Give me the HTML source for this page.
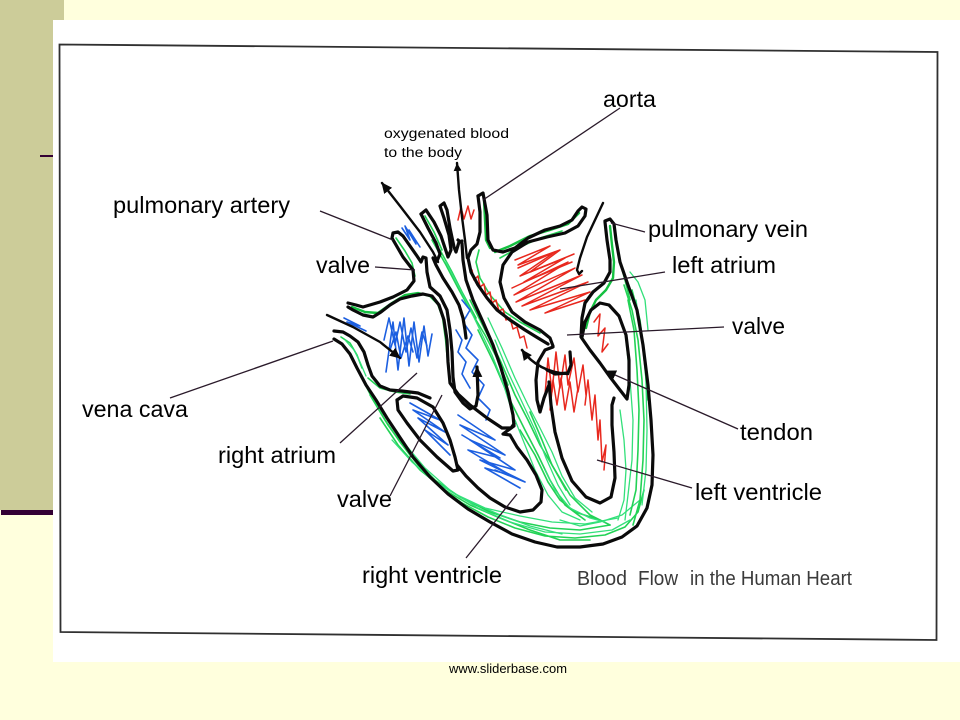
<!DOCTYPE html>
<html>
<head>
<meta charset="utf-8">
<style>
html,body{margin:0;padding:0;background:#FFFFDD;}
svg{display:block;}
.lb{font-family:"Liberation Sans",Arial,sans-serif;font-size:23px;fill:#000;}
.k{fill:none;stroke:#0a0a0a;stroke-width:3.2;stroke-linejoin:round;stroke-linecap:round;}
.pt{fill:none;stroke:#2a1a2a;stroke-width:1.3;}
.g{fill:none;stroke:#22d255;stroke-width:1.6;stroke-linejoin:round;stroke-linecap:round;}
.g2{fill:none;stroke:#14c040;stroke-width:2.4;stroke-linejoin:round;stroke-linecap:round;}
.g3{fill:none;stroke:#33e07a;stroke-width:1.3;stroke-linejoin:round;stroke-linecap:round;}
.b{fill:none;stroke:#1c5fe0;stroke-width:1.6;stroke-linejoin:round;stroke-linecap:round;}
.r{fill:none;stroke:#e8281e;stroke-width:1.5;stroke-linejoin:round;stroke-linecap:round;}
</style>
</head>
<body>
<svg width="960" height="720" viewBox="0 0 960 720" xmlns="http://www.w3.org/2000/svg">
<defs>
<marker id="ah" markerUnits="userSpaceOnUse" markerWidth="12" markerHeight="10" refX="10" refY="5" orient="auto">
<path d="M0,0 L11,5 L0,10 z" fill="#0a0a0a"/>
</marker>
<marker id="ahs" markerUnits="userSpaceOnUse" markerWidth="9" markerHeight="8" refX="8" refY="4" orient="auto">
<path d="M0,0 L8,4 L0,8 z" fill="#0a0a0a"/>
</marker>
</defs>

<!-- background -->
<rect x="0" y="0" width="960" height="720" fill="#FFFFDD"/>
<rect x="0" y="0" width="64" height="510" fill="#CCCC99"/>
<rect x="1" y="510" width="52" height="5" fill="#330033"/>
<rect x="40" y="155" width="14" height="2" fill="#330033"/>
<rect x="53" y="20" width="907" height="642" fill="#FFFFFF"/>

<!-- frame -->
<polygon points="59.5,44.5 937.5,52 936.5,640 60.5,632" fill="none" stroke="#303030" stroke-width="1.8"/>

<!-- ===== green muscle strokes ===== -->
<polyline class="g" points="362,378 372,398 385,420 400,442 418,465 440,487 462,503 488,517 515,528 545,536 575,538 605,535 625,527 638,512 644,490"/>
<polyline class="g" points="370,395 388,425 410,455 435,480 460,497 490,512 520,522 550,528 580,530 610,525"/>
<polyline class="g" points="380,418 398,445 420,470 445,490 470,505 500,518 530,530 560,540 590,540"/>
<polyline class="g3" points="366,385 382,412 400,438 425,468 452,492 478,508 510,522 545,532 580,534 612,530 630,520"/>
<polyline class="g3" points="392,440 412,462 438,484 466,500 498,514 530,526 562,534"/>
<polyline class="g3" points="430,478 455,494 485,508 520,516 552,522 585,524 618,518"/>
<polyline class="g3" points="560,520 580,526 600,522 622,515 640,500"/>
<polyline class="g" points="624,285 632,310 638,340 642,380 644,420 643,460 640,500 633,525"/>
<polyline class="g" points="628,300 634,330 637,370 639,410 638,450 636,490 630,515"/>
<polyline class="g" points="632,290 640,320 645,360 647,400"/>
<polyline class="g3" points="626,340 630,380 633,420 632,460 628,495 625,520"/>
<polyline class="g3" points="636,300 642,340 646,380 647,430 646,470 642,505"/>
<polyline class="g3" points="620,410 624,440 626,470 624,500 618,520"/>
<polyline class="g3" points="630,272 638,282 645,300 648,330"/>
<polyline class="g" points="470,300 485,330 500,360 515,395 528,420 540,445 555,470 570,495 590,515 610,525"/>
<polyline class="g" points="478,330 495,365 510,400 525,430 538,455 550,480 565,505 585,520"/>
<polyline class="g" points="520,430 535,455 548,482 560,500 575,512 600,520"/>
<polyline class="g" points="530,412 542,440 552,465 566,490"/>
<polyline class="g3" points="488,318 502,348 515,378 528,405 540,428 552,452 562,476 575,498 592,512"/>
<polyline class="g3" points="495,340 508,372 522,402 535,430 546,458 558,485 570,505"/>
<polyline class="g3" points="515,420 525,445 535,470 548,495 562,512 580,520"/>
<polyline class="g3" points="545,470 555,490 570,508 590,518 605,522"/>
<polyline class="g2" points="610,226 612,245 614,262 613,278 606,290 596,300 590,312 586,328"/>
<polyline class="g" points="616,240 620,262 625,280 630,300"/>
<polyline class="g2" points="495,252 510,246 530,236 550,230 568,224 579,213"/>
<polyline class="g" points="500,258 518,248 540,238 562,231"/>
<polyline class="g2" points="484,200 485,220 486,240 490,248"/>
<polyline class="g" points="479,250 476,262 480,278 490,295 505,312 520,322 540,333"/>
<polyline class="g2" points="352,307 365,312 378,313 392,303 405,295 418,293 430,296 438,304 443,318 446,340 448,362"/>
<polyline class="g" points="396,238 405,251 412,263 415,276"/>
<polyline class="g" points="425,216 434,232 442,250"/>
<polyline class="g" points="432,240 446,265 458,288 470,310 485,335 498,360 508,385"/>
<polyline class="g" points="440,250 452,272 462,292 476,318"/>
<polyline class="g3" points="446,262 458,285 468,305 480,330 492,355 502,380 510,405"/>
<polyline class="g" points="341,337 350,343 357,355 362,368"/>
<polyline class="g" points="368,378 380,388 395,392 410,394"/>
<polyline class="g3" points="345,340 354,350 360,362 366,376"/>

<!-- ===== blue scribbles ===== -->
<polyline class="b" points="386,372 393,322 398,370 404,318 409,366 414,322 419,362 424,326 428,356 432,334"/>
<polyline class="b" points="390,350 396,332 401,358 408,336 413,352"/>
<polyline class="b" points="384,340 389,318 395,345 400,322 406,352 411,328 417,358 422,332 427,346"/>
<polyline class="b" points="402,228 410,240 405,226 416,244 409,230 420,247"/>
<polyline class="b" points="344,318 360,326 347,322 366,331"/>
<polyline class="b" points="462,300 470,310 463,322 472,335 466,348 478,360 472,372 484,385 478,398 490,410 486,420"/>
<polyline class="b" points="456,330 462,340 458,352 466,362 462,374 470,388"/>
<polyline class="b" points="410,403 440,420 413,410 445,432 418,418 448,445 425,430 450,455"/>
<polyline class="b" points="458,415 495,440 460,425 505,455 470,440 515,470 480,460 525,482 495,470"/>
<polyline class="b" points="462,435 500,458 468,450 510,475 485,468 520,488"/>

<!-- ===== red scribbles ===== -->
<polyline class="r" points="512,288 568,262 514,295 575,268 516,302 582,275 522,306 588,282 530,310 590,292 545,313 585,300"/>
<polyline class="r" points="518,268 555,252 520,276 565,258 524,282 572,262"/>
<polyline class="r" points="515,260 550,246 518,265 560,250 530,272 574,254"/>
<polyline class="r" points="458,220 461,207 464,219 468,206 471,219 474,210"/>
<polyline class="r" points="472,270 474,280 478,276 480,287 484,284 486,295 490,292 492,303 496,300 499,311 503,309 506,320 510,318 513,329 517,327 520,338 524,336 527,348"/>
<polyline class="r" points="545,395 548,358 552,392 556,352 560,388 565,355 568,385 574,358 578,392 583,365 586,395"/>
<polyline class="r" points="550,410 553,380 557,405 561,378 565,410 570,382 574,412 578,388"/>
<polyline class="r" points="585,405 588,380 592,420 595,395 598,440 600,420 602,462 606,445 604,470"/>
<polyline class="r" points="594,322 600,314 598,336 605,328 602,352 608,344"/>

<!-- ===== black heart outlines ===== -->
<polyline class="k" points="334,339 342,344 350,354 357,368 366,385 376,400 387,418 399,436 413,457 430,477 448,494 468,509 490,522 512,534 535,542 557,547 580,547 603,544 622,537 637,526 647,508 652,485 653,455 651,420 648,385 643,345 637,310 628,285 620,262 616,240 614,224 610,219 605,221"/>
<polyline class="k" points="605,222 607,240 610,260 610,272 604,283 593,292 585,303 582,318 581,337 590,350 600,363 610,377 620,390 627,399 629,385 629,360 626,335 619,316 609,305 600,303 591,310 585,322 582,337"/>
<polyline class="k" points="549,382 551,405 555,432 562,458 572,481 586,497 600,503 611,497 615,478 614,452 612,425 612,405 614,398"/>
<polyline class="k" points="547,370 555,374 568,373 571,365 570,352"/>
<polyline class="k" points="553,347 545,350 538,362 536,380 537,400 540,412 544,398 549,385"/>
<polyline class="k" points="478,196 483,193 487,215 488,240 493,250 503,252 515,248 528,238 545,230 560,226 572,220 578,211 582,207 586,209 585,216 578,226 565,233 547,237 528,242 512,252 503,265 500,282 504,298 512,312 525,322 540,330 550,338 553,346"/>
<polyline class="k" points="478,196 480,212 480,232 477,244 471,250 468,258 471,272 478,285 487,298 497,310 510,320 525,330 538,338 548,344"/>
<polyline class="k" points="458,240 462,243 463,260 466,280 473,300 483,322 493,345 501,368 508,392 513,415 514,426 507,431 503,434 510,435 517,447 527,460 536,475 542,490 541,502 533,510 520,512 505,507 490,498 478,488 466,476 457,465"/>
<polyline class="k" points="397,400 403,396 417,398 433,407 443,423 450,440 455,457 458,470 453,471 437,457 420,440 407,423 398,410 397,400"/>
<polyline class="k" points="334,331 343,332 350,336 358,342 364,352 368,365 372,376 380,386 390,390 402,391 418,393 430,398"/>
<polyline class="k" points="348,307 353,310 363,315 373,317 381,312 390,305 400,299 412,296 423,294 432,296 439,305 444,320 447,340 448,362 450,383 458,394 470,405 487,418 502,428 511,428 514,424"/>
<polyline class="k" points="348,303 356,305 363,307 380,302 393,297 407,290 414,281 413,270 403,257 392,238 393,233 398,232 403,236 410,246 417,256 421,262 423,257 426,258 427,272 430,287 440,296 447,310 450,330 452,352 453,377 455,392 463,403 470,409 476,406 478,395 477,367" marker-end="url(#ah)"/>
<polyline class="k" points="421,214 428,228 436,243 440,254 437,261 433,258 436,265 443,278 452,292 459,305 463,318 465,330 466,338"/>
<polyline class="k" points="421,214 426,210 434,222 441,236 445,248 448,257 451,250 449,235 444,218 440,206 444,203 447,210 450,228 454,247 456,252 459,242 462,241"/>

<!-- arrows -->
<polyline class="k" style="stroke-width:2.4" points="438,262 433,252 420,232 400,206 382,183" marker-end="url(#ah)"/>
<polyline class="k" style="stroke-width:2.4" points="467,258 465,240 462,217 459,190 457,163" marker-end="url(#ahs)"/>
<polyline class="k" style="stroke-width:2.4" points="603,203 587,237 580,258 577,270 579,274 582,271"/>
<path class="k" style="stroke-width:2.6" d="M568,374 Q538,372 522,350" marker-end="url(#ah)"/>
<polyline class="k" style="stroke-width:2.4" points="327,315 353,327 380,342 400,358" marker-end="url(#ah)"/>

<!-- label pointers -->
<line class="pt" x1="620" y1="108" x2="483" y2="200"/>
<line class="pt" x1="320" y1="211" x2="393" y2="240"/>
<line class="pt" x1="375" y1="267" x2="415" y2="270"/>
<line class="pt" x1="611" y1="223" x2="645" y2="232"/>
<line class="pt" x1="560" y1="289" x2="665" y2="272"/>
<line class="pt" x1="567" y1="335" x2="724" y2="327"/>
<line class="pt" x1="738" y1="429" x2="606" y2="371" marker-end="url(#ah)"/>
<line class="pt" x1="597" y1="460" x2="692" y2="488"/>
<line class="pt" x1="333" y1="341" x2="170" y2="398"/>
<line class="pt" x1="340" y1="443" x2="417" y2="373"/>
<line class="pt" x1="390" y1="496" x2="442" y2="395"/>
<line class="pt" x1="466" y1="558" x2="517" y2="494"/>

<!-- labels -->
<text class="lb" x="603" y="107" textLength="53" lengthAdjust="spacingAndGlyphs">aorta</text>
<text class="lb" style="font-size:13.5px" x="384" y="138" textLength="125" lengthAdjust="spacingAndGlyphs">oxygenated blood</text>
<text class="lb" style="font-size:13.5px" x="384" y="157" textLength="78" lengthAdjust="spacingAndGlyphs">to the body</text>
<text class="lb" x="113" y="213" textLength="177" lengthAdjust="spacingAndGlyphs">pulmonary artery</text>
<text class="lb" x="648" y="237" textLength="160" lengthAdjust="spacingAndGlyphs">pulmonary vein</text>
<text class="lb" x="316" y="273" textLength="54" lengthAdjust="spacingAndGlyphs">valve</text>
<text class="lb" x="672" y="273" textLength="104" lengthAdjust="spacingAndGlyphs">left atrium</text>
<text class="lb" x="732" y="334" textLength="53" lengthAdjust="spacingAndGlyphs">valve</text>
<text class="lb" x="82" y="417" textLength="106" lengthAdjust="spacingAndGlyphs">vena cava</text>
<text class="lb" x="740" y="440" textLength="73" lengthAdjust="spacingAndGlyphs">tendon</text>
<text class="lb" x="218" y="463" textLength="118" lengthAdjust="spacingAndGlyphs">right atrium</text>
<text class="lb" x="695" y="500" textLength="127" lengthAdjust="spacingAndGlyphs">left ventricle</text>
<text class="lb" x="337" y="507" textLength="55" lengthAdjust="spacingAndGlyphs">valve</text>
<text class="lb" x="362" y="583" textLength="140" lengthAdjust="spacingAndGlyphs">right ventricle</text>

<text class="lb" style="font-size:20px;fill:#3a3a3a" x="577" y="585" textLength="50" lengthAdjust="spacingAndGlyphs">Blood</text>
<text class="lb" style="font-size:20px;fill:#3a3a3a" x="638" y="585" textLength="40" lengthAdjust="spacingAndGlyphs">Flow</text>
<text class="lb" style="font-size:20px;fill:#3a3a3a" x="690" y="585" textLength="162" lengthAdjust="spacingAndGlyphs">in the Human Heart</text>

<text class="lb" style="font-size:12.5px" x="449" y="673" textLength="118" lengthAdjust="spacingAndGlyphs">www.sliderbase.com</text>
</svg>
</body>
</html>
